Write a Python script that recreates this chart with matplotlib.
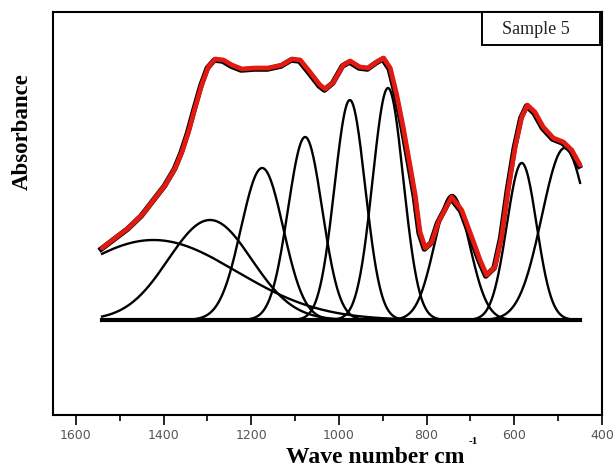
import numpy as np
from matplotlib import pyplot as plt
from matplotlib.patches import Rectangle

env_wn = [1540, 1510, 1480, 1449, 1419, 1396, 1373, 1358, 1343, 1328, 1313, 1298,
          1282, 1263, 1244, 1221, 1191, 1161, 1130, 1107, 1088, 1066, 1043, 1031,
          1012, 990, 974, 952, 933, 914, 898, 883, 868, 853, 838, 826, 815, 803,
          788, 773, 743, 720, 697, 678, 663, 644, 629, 614, 598, 583, 570, 553,
          534, 511, 488, 469, 450]
env_abs = [72, 82, 92, 105, 122, 135, 152, 168, 188, 212, 235, 253,
           261, 260, 255, 251, 252, 252, 255, 261, 260, 248, 235, 231,
           238, 255, 259, 253, 252, 258, 262, 252, 225, 192, 155, 125, 88, 72,
           78, 98, 123, 110, 83, 60, 45, 53, 83, 130, 173, 203, 215, 208,
           193, 182, 178, 170, 155]

# fitted gaussian components: centre, height, sigma
peak_centre = [1423, 1294, 1175, 1077, 975, 888, 742, 583, 485]
peak_height = [80, 100, 152, 183, 220, 232, 125, 157, 172]
peak_sigma = [190, 95, 48, 39, 35, 35, 40, 34, 52]

wn_lo, wn_hi = 450, 1540
x_ticks = [1600, 1400, 1200, 1000, 800, 600, 400]

fig = plt.figure(figsize=(6.14, 4.69), dpi=100)
ax = fig.add_axes([53/614, 1-415/469, (602-53)/614, (415-12)/469])

wn = np.linspace(wn_lo, wn_hi, 800)
for c, h, s in zip(peak_centre, peak_height, peak_sigma):
    ax.plot(wn, h*np.exp(-(wn-c)**2/(2*s**2)), color='black', lw=1.7)

ax.plot([wn_hi, wn_lo], [0, 0], color='black', lw=3)

# black shadow under the red envelope
ax.plot(np.array(env_wn)+2, np.array(env_abs)-1, color='black', lw=4.0)
ax.plot(env_wn, env_abs, color='#e31a12', lw=3.4, solid_capstyle='round')

ax.set_xlim(1652, 400)
ax.set_ylim(-95, 308)
ax.set_yticks([])
ax.set_xticks(x_ticks)
ax.set_xticks(range(500, 1600, 200), minor=True)
ax.tick_params(axis='x', which='major', direction='out', length=7, width=1.2,
               labelsize=9, labelcolor='#555555', pad=3)
ax.tick_params(axis='x', which='minor', direction='out', length=4, width=1.2)
for sp in ax.spines.values():
    sp.set_linewidth(1.5)

xl = fig.text(375/614, 1-463/469, 'Wave number cm', family='Liberation Serif',
              fontweight='bold', fontsize=17, ha='center', va='baseline')
# small raised -1 after the label
ax.annotate('-1', xy=(1, 1), xycoords=xl, xytext=(3, 7), textcoords='offset points',
            family='Liberation Serif', fontweight='bold', fontsize=8,
            ha='left', va='top', annotation_clip=False)
fig.text(22/614, 1-132/469, 'Absorbance', family='Liberation Serif',
         fontweight='bold', fontsize=16.5, rotation=90, ha='center', va='center')

# sample label box
fig.patches.append(Rectangle((482/614, 1-45/469), 118/614, 33/469,
                             transform=fig.transFigure, fc='white', ec='black',
                             lw=1.4, zorder=5))
fig.text(536/614, 1-29/469, 'Sample 5', family='Liberation Serif', fontsize=13,
         ha='center', va='center', color='#222222', zorder=6)

fig.savefig('out.png', dpi=100)
